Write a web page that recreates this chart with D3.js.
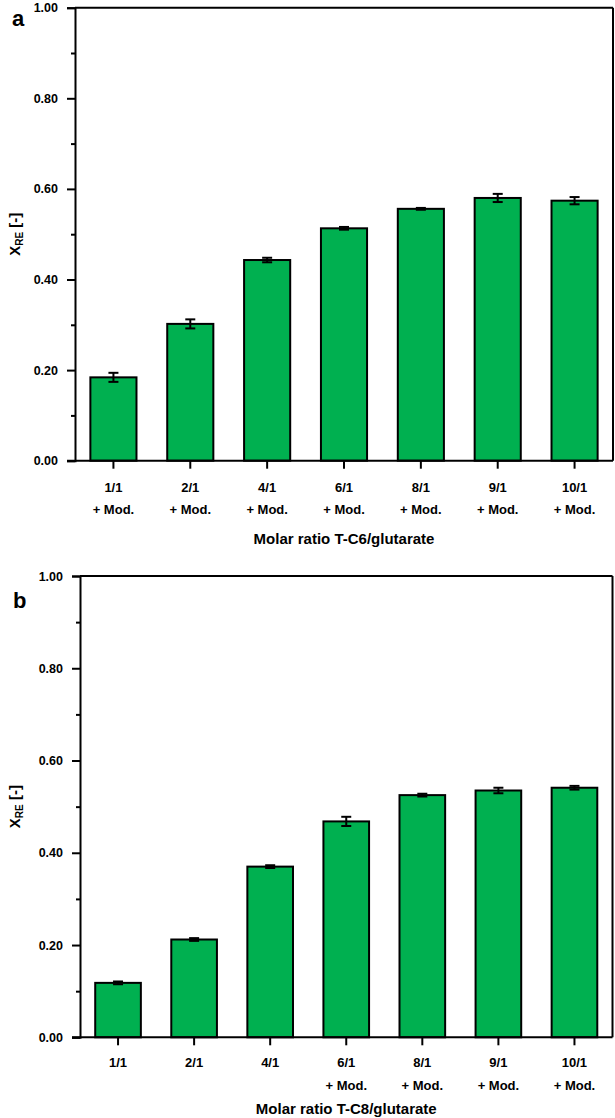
<!DOCTYPE html>
<html>
<head>
<meta charset="utf-8">
<script src="https://cdn.jsdelivr.net/npm/d3@7"></script>
<style>
  html, body { margin: 0; padding: 0; background: #fff; }
  svg { display: block; }
  text { font-family: "Liberation Sans", Arial, sans-serif; font-weight: bold; fill: #000; }
</style>
</head>
<body>
<svg id="chart" width="615" height="1118"></svg>
<script>
// ---- data ----
const categoriesA = ["1/1", "2/1", "4/1", "6/1", "8/1", "9/1", "10/1"];
const subLabelsA  = ["+ Mod.", "+ Mod.", "+ Mod.", "+ Mod.", "+ Mod.", "+ Mod.", "+ Mod."];
const valuesA     = [0.184, 0.302, 0.443, 0.513, 0.556, 0.580, 0.574];
const errorsA     = [0.010, 0.010, 0.005, 0.003, 0.002, 0.009, 0.008];

const categoriesB = ["1/1", "2/1", "4/1", "6/1", "8/1", "9/1", "10/1"];
const subLabelsB  = ["", "", "", "+ Mod.", "+ Mod.", "+ Mod.", "+ Mod."];
const valuesB     = [0.118, 0.212, 0.370, 0.468, 0.525, 0.535, 0.541];
const errorsB     = [0.003, 0.003, 0.003, 0.010, 0.003, 0.006, 0.004];

const yMajorTicks = [0, 0.2, 0.4, 0.6, 0.8, 1.0];
const yMinorTicks = [0.1, 0.3, 0.5, 0.7, 0.9];
const xTitleA = "Molar ratio T-C6/glutarate";
const xTitleB = "Molar ratio T-C8/glutarate";

const svg = d3.select("#chart");
const GREEN = "#00B050";

function drawPanel(o) {
  const g = svg.append("g");
  const x = d3.scaleBand().domain(o.cats).range([o.left, o.right]).paddingInner(0.4).paddingOuter(0.2);
  const y = d3.scaleLinear().domain([0, 1]).range([o.bottom, o.top]);

  // bars
  g.selectAll("rect.bar").data(o.vals).join("rect")
    .attr("x", (d, i) => x(o.cats[i]))
    .attr("y", d => y(d))
    .attr("width", x.bandwidth())
    .attr("height", d => y(0) - y(d))
    .attr("fill", GREEN)
    .attr("stroke", "#000")
    .attr("stroke-width", 2);

  // error bars
  const cap = 10;
  const eg = g.append("g").attr("stroke", "#000").attr("stroke-width", 2);
  o.vals.forEach((v, i) => {
    const cx = x(o.cats[i]) + x.bandwidth() / 2;
    const e = o.errs[i];
    eg.append("line").attr("x1", cx).attr("x2", cx).attr("y1", y(v + e)).attr("y2", y(v - e));
    eg.append("line").attr("x1", cx - cap / 2).attr("x2", cx + cap / 2).attr("y1", y(v + e)).attr("y2", y(v + e));
    eg.append("line").attr("x1", cx - cap / 2).attr("x2", cx + cap / 2).attr("y1", y(v - e)).attr("y2", y(v - e));
  });

  // frame top and right
  g.append("line").attr("x1", o.left).attr("x2", o.right).attr("y1", y(1)).attr("y2", y(1))
    .attr("stroke", "#000").attr("stroke-width", 2);
  g.append("line").attr("x1", o.right).attr("x2", o.right).attr("y1", y(1)).attr("y2", y(0))
    .attr("stroke", "#000").attr("stroke-width", 2);

  // y axis
  const yAxis = d3.axisLeft(y).tickValues(yMajorTicks).tickFormat(d3.format(".2f")).tickSize(8).tickPadding(9);
  const ya = g.append("g").attr("transform", `translate(${o.left},0)`).call(yAxis);
  ya.select(".domain").attr("stroke-width", 2);
  ya.selectAll(".tick line").attr("stroke-width", 2);
  ya.selectAll(".tick text").attr("font-size", 12.5).attr("font-family", "Liberation Sans, Arial, sans-serif").attr("font-weight", "bold");
  const yMinor = d3.axisLeft(y).tickValues(yMinorTicks).tickFormat("").tickSize(4);
  const ym = g.append("g").attr("transform", `translate(${o.left},0)`).call(yMinor);
  ym.select(".domain").remove();
  ym.selectAll(".tick line").attr("stroke-width", 2);

  // x axis
  const xAxis = d3.axisBottom(x).tickSize(8).tickFormat("");
  const xa = g.append("g").attr("transform", `translate(0,${o.bottom})`).call(xAxis);
  xa.select(".domain").attr("stroke-width", 2).attr("d", `M${o.left - 8},0H${o.right}`);
  xa.selectAll(".tick line").attr("stroke-width", 2);

  // x labels (two lines)
  o.cats.forEach((c, i) => {
    const cx = x(c) + x.bandwidth() / 2;
    g.append("text").attr("x", cx).attr("y", o.lab1Y).attr("text-anchor", "middle")
      .attr("dominant-baseline", "central").attr("font-size", 13).text(c);
    if (o.subs[i]) {
      g.append("text").attr("x", cx).attr("y", o.lab2Y).attr("text-anchor", "middle")
        .attr("dominant-baseline", "central").attr("font-size", 13).text(o.subs[i]);
    }
  });

  // x title
  g.append("text").attr("x", (o.left + o.right) / 2).attr("y", o.titleY).attr("text-anchor", "middle")
    .attr("dominant-baseline", "central").attr("font-size", 15).text(o.xTitle);

  // y title
  const yt = g.append("text").attr("transform", `translate(${o.yTitleX},${(o.top + o.bottom) / 2}) rotate(-90)`)
    .attr("text-anchor", "middle").attr("font-size", 15);
  yt.append("tspan").text("X");
  yt.append("tspan").attr("font-size", 10).attr("dy", 3).text("RE");
  yt.append("tspan").attr("dy", -3).text(" [-]");

  // panel letter
  g.append("text").attr("x", o.letterX).attr("y", o.letterY).attr("font-size", 22).text(o.letter);
}

drawPanel({
  cats: categoriesA, subs: subLabelsA, vals: valuesA, errs: errorsA,
  left: 75, right: 613, top: 7.7, bottom: 460.7,
  lab1Y: 487, lab2Y: 509, titleY: 538, xTitle: xTitleA,
  yTitleX: 20, letter: "a", letterX: 12, letterY: 26
});

drawPanel({
  cats: categoriesB, subs: subLabelsB, vals: valuesB, errs: errorsB,
  left: 80, right: 612.5, top: 576, bottom: 1037.3,
  lab1Y: 1062, lab2Y: 1085, titleY: 1108, xTitle: xTitleB,
  yTitleX: 20, letter: "b", letterX: 13, letterY: 608
});
</script>
</body>
</html>
